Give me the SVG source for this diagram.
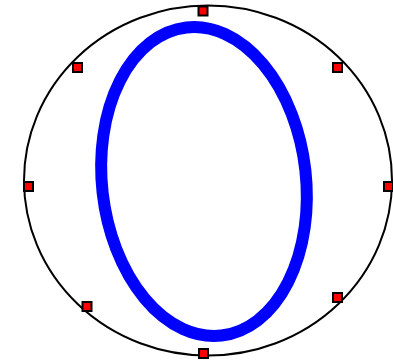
<svg xmlns="http://www.w3.org/2000/svg" width="393" height="362" viewBox="0 0 393 362">
<style>
.h{fill:#ff0000;stroke:#000;stroke-width:2}
</style>
<rect width="393" height="362" fill="#fff"/>
<g id="outer">
<ellipse cx="208" cy="180.5" rx="184" ry="175" fill="none" stroke="#000" stroke-width="2"/>
</g>
<g id="loop">
<ellipse cx="0" cy="0" rx="102" ry="155" fill="none" stroke="#0000ff" stroke-width="12" transform="translate(204 181.5) rotate(-6.5)"/>
</g>
<g id="handles">
<rect class="h" x="198.5" y="6.5" width="9" height="9"/>
<rect class="h" x="73" y="63" width="9" height="9"/>
<rect class="h" x="333" y="63" width="9" height="9"/>
<rect class="h" x="24" y="182" width="9" height="9"/>
<rect class="h" x="384" y="182" width="9" height="9"/>
<rect class="h" x="82.5" y="302" width="9" height="9"/>
<rect class="h" x="333" y="293" width="9" height="9"/>
<rect class="h" x="199" y="349" width="9" height="9"/>
</g>
</svg>
